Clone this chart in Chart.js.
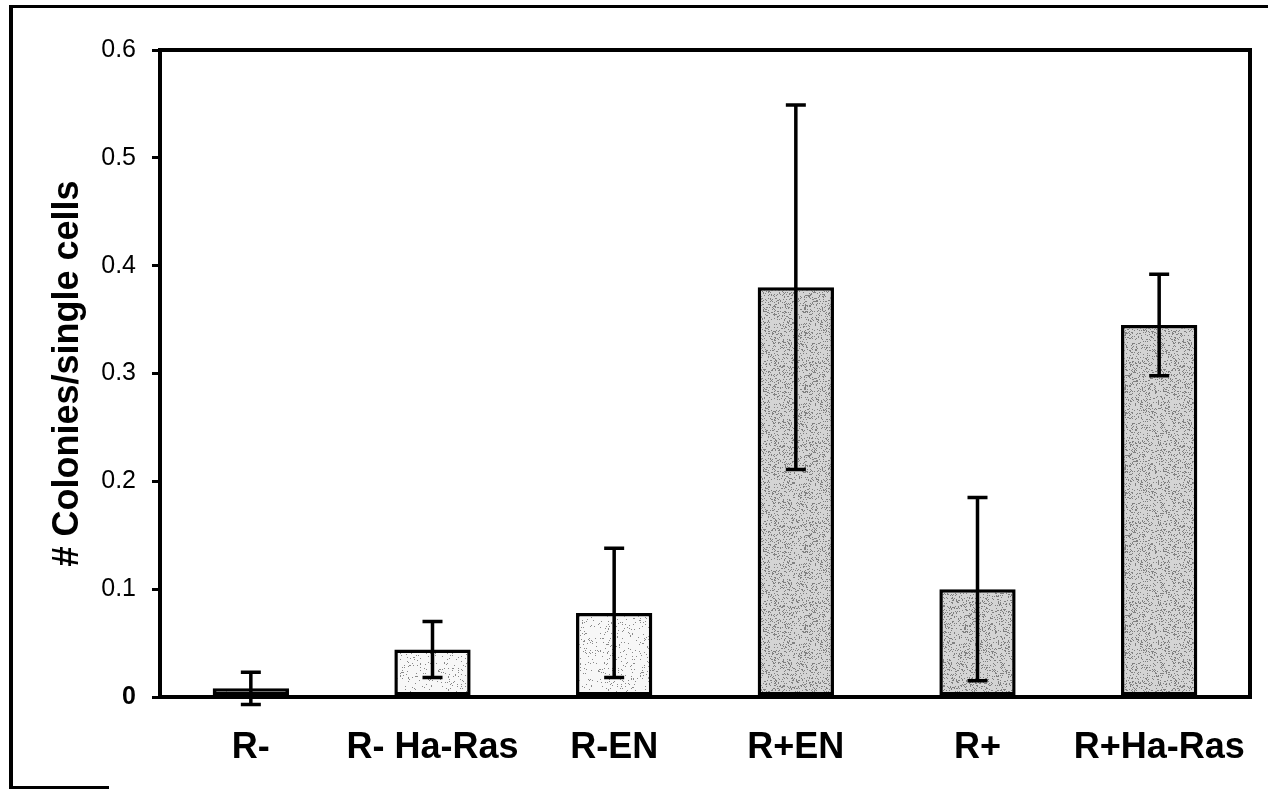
<!DOCTYPE html>
<html>
<head>
<meta charset="utf-8">
<script src="https://cdn.jsdelivr.net/npm/chart.js@4.4.1/dist/chart.umd.min.js"></script>
<style>
  html, body { margin: 0; padding: 0; background: #fff; }
  #wrap { position: relative; width: 1268px; height: 792px; overflow: hidden; }
  #c { position: absolute; left: 0; top: 0; }
  .fr { position: absolute; background: #000; }
</style>
</head>
<body>
<div id="wrap">
  <canvas id="c" width="1268" height="792"></canvas>
  <div class="fr" style="left:9px;top:5px;width:1259px;height:3px;"></div>
  <div class="fr" style="left:9px;top:5px;width:4px;height:784px;"></div>
  <div class="fr" style="left:9px;top:786px;width:100px;height:3px;"></div>
</div>
<script>
// ---- data ----
const categories = ["R-", "R- Ha-Ras", "R-EN", "R+EN", "R+", "R+Ha-Ras"];
const means = [0.008, 0.044, 0.078, 0.380, 0.100, 0.345];
const errors = [0.015, 0.026, 0.060, 0.169, 0.085, 0.047];
const yTickLabels = ["0", "0.1", "0.2", "0.3", "0.4", "0.5", "0.6"];
const yTitle = "# Colonies/single cells";
const shade = ["light", "light", "light", "dark", "dark", "dark"];

// ---- stipple textures ----
function makePattern(base, dotColor, density, seed) {
  const cv = document.createElement('canvas');
  cv.width = 80; cv.height = 80;
  const g = cv.getContext('2d');
  g.fillStyle = base; g.fillRect(0, 0, 80, 80);
  let s = seed;
  const rnd = () => { s = (s * 1103515245 + 12345) & 0x7fffffff; return s / 0x7fffffff; };
  g.fillStyle = dotColor;
  for (let i = 0; i < density; i++) {
    const x = Math.floor(rnd() * 80), y = Math.floor(rnd() * 80);
    g.fillRect(x, y, 1, 1);
  }
  return g.createPattern(cv, 'repeat');
}
const lightPat = makePattern('#f7f7f7', '#8a8a8a', 420, 7);
const darkPat = makePattern('#d4d4d4', '#808080', 1400, 11);
const fills = shade.map(s => s === 'light' ? lightPat : darkPat);

const FONT = "'Liberation Sans', Arial, Helvetica, sans-serif";

const errorBars = {
  id: 'errorBars',
  afterDatasetsDraw(chart) {
    const { ctx } = chart;
    const y = chart.scales.y;
    const meta = chart.getDatasetMeta(0);
    ctx.save();
    ctx.strokeStyle = '#000';
    ctx.lineWidth = 3.5;
    meta.data.forEach((bar, i) => {
      const x = bar.x;
      const yt = y.getPixelForValue(means[i] + errors[i]);
      const yb = y.getPixelForValue(means[i] - errors[i]);
      ctx.beginPath();
      ctx.moveTo(x, yt); ctx.lineTo(x, yb);
      ctx.moveTo(x - 10, yt); ctx.lineTo(x + 10, yt);
      ctx.moveTo(x - 10, yb); ctx.lineTo(x + 10, yb);
      ctx.stroke();
    });
    ctx.restore();
  }
};

const plotBox = {
  id: 'plotBox',
  afterDraw(chart) {
    const a = chart.chartArea;
    const ctx = chart.ctx;
    ctx.save();
    ctx.strokeStyle = '#000';
    ctx.lineWidth = 4;
    ctx.strokeRect(a.left, a.top, a.right - a.left, a.bottom - a.top);
    ctx.restore();
  }
};

new Chart(document.getElementById('c'), {
  type: 'bar',
  data: {
    labels: categories,
    datasets: [{
      data: means,
      backgroundColor: fills,
      borderColor: '#000',
      borderWidth: 3.5,
      borderSkipped: false,
      categoryPercentage: 1.0,
      barPercentage: 0.42
    }]
  },
  options: {
    responsive: false,
    animation: false,
    layout: { padding: { left: 46, right: 18, top: 50, bottom: 0 } },
    plugins: { legend: { display: false }, tooltip: { enabled: false } },
    scales: {
      x: {
        grid: { display: false },
        border: { display: false },
        ticks: {
          color: '#000',
          padding: 21,
          font: { family: FONT, size: 36, weight: 'bold' },
          maxRotation: 0,
          autoSkip: false
        },
        afterFit(s) { s.height = 95; }
      },
      y: {
        min: 0, max: 0.6,
        border: { display: false },
        grid: { display: true, drawOnChartArea: false, drawTicks: true, tickLength: 8, color: '#000', lineWidth: 3 },
        ticks: {
          stepSize: 0.1,
          color: '#000',
          padding: 16,
          font: (c) => ({ family: FONT, size: 25, weight: (c.tick && c.tick.value === 0) ? 'bold' : 'normal' }),
          callback: (v, i) => yTickLabels[i]
        },
        title: {
          display: true,
          text: yTitle,
          color: '#000',
          font: { family: FONT, size: 36, weight: 'bold' },
          padding: { top: 0, bottom: 0 }
        },
        afterFit(s) { s.width = 114; }
      }
    }
  },
  plugins: [errorBars, plotBox]
});
</script>
</body>
</html>
